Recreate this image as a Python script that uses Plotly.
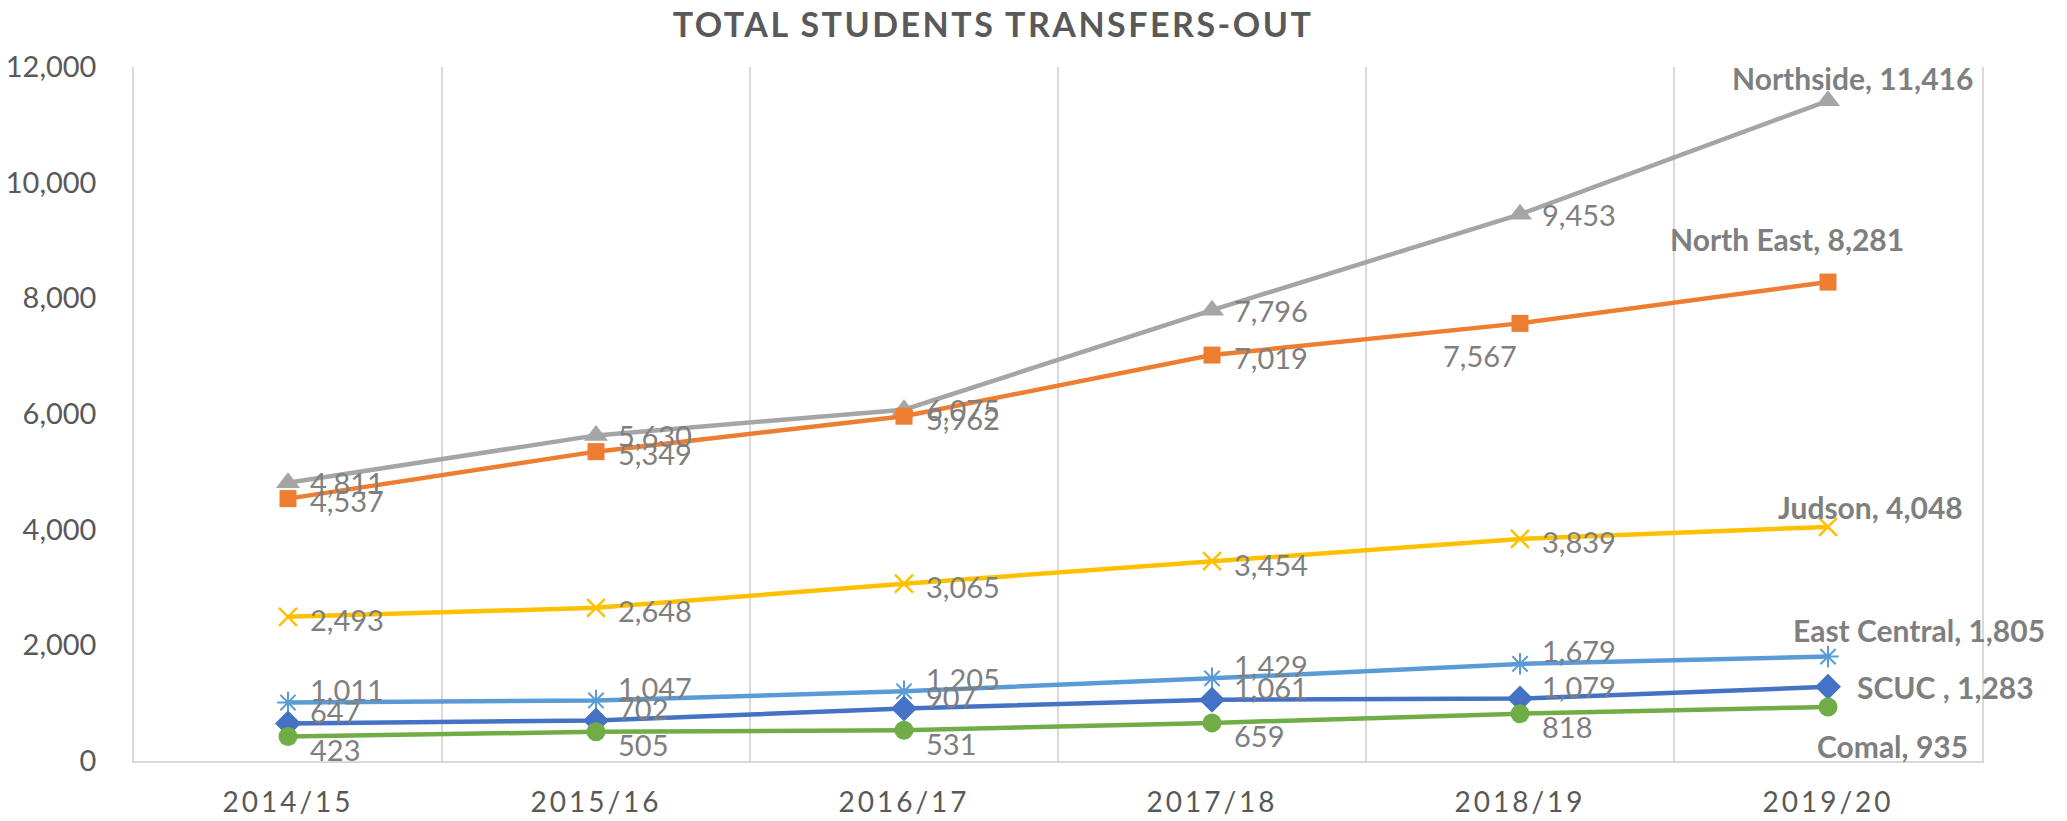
import plotly.graph_objects as go

categories = ["2014/15", "2015/16", "2016/17", "2017/18", "2018/19", "2019/20"]
series_names = ["Northside", "North East", "Judson", "East Central", "SCUC ", "Comal"]
northside = [4811, 5630, 6075, 7796, 9453, 11416]
north_east = [4537, 5349, 5962, 7019, 7567, 8281]
judson = [2493, 2648, 3065, 3454, 3839, 4048]
east_central = [1011, 1047, 1205, 1429, 1679, 1805]
scuc = [647, 702, 907, 1061, 1079, 1283]
comal = [423, 505, 531, 659, 818, 935]
title_text = "TOTAL STUDENTS TRANSFERS-OUT"

values = [northside, north_east, judson, east_central, scuc, comal]

styles = [
    dict(color="#A5A5A5", symbol="triangle-up", size=21, lw=0),
    dict(color="#ED7D31", symbol="square", size=17, lw=0),
    dict(color="#FFC000", symbol="x-thin-open", size=18, lw=2.5),
    dict(color="#5B9BD5", symbol="asterisk-open", size=18, lw=2),
    dict(color="#4472C4", symbol="diamond", size=20, lw=0),
    dict(color="#70AD47", symbol="circle", size=19, lw=0),
]
# vertical shift (px, up positive) of ordinary value labels, per series
label_dy = [0, -2, -3, 13, 12, -13]
# final bold label placement: (xanchor, xshift, yshift)
final_pos = [
    ("center", 24, 23),
    ("center", -41, 43),
    ("center", 42, 20),
    ("center", 91, 27),
    ("left", 27, 0),
    ("center", 64, -39),
]

fig = go.Figure()
annotations = []
LABEL_GRAY = "#7F7F7F"
FONT = "Lato"

for name, vals, st, dy, fp in zip(series_names, values, styles, label_dy, final_pos):
    fig.add_trace(go.Scatter(
        x=categories, y=vals, mode="lines+markers", name=name,
        line=dict(color=st["color"], width=4.5),
        marker=dict(symbol=st["symbol"], size=st["size"], color=st["color"],
                    line=dict(color=st["color"], width=st["lw"])),
        hoverinfo="skip",
    ))
    n = len(vals)
    for i, (c, v) in enumerate(zip(categories, vals)):
        if i == n - 1:
            xa, xs, ys = fp
            annotations.append(dict(
                x=c, y=v, xref="x", yref="y", text=f"<b>{name}, {v:,}</b>",
                showarrow=False, xanchor=xa, yanchor="middle", xshift=xs, yshift=ys,
                font=dict(family=FONT, size=30, color=LABEL_GRAY)))
        elif name == "North East" and i == 4:
            annotations.append(dict(
                x=c, y=v, xref="x", yref="y", text=f"{v:,}",
                showarrow=False, xanchor="center", yanchor="middle", xshift=-40, yshift=-32,
                font=dict(family=FONT, size=29, color=LABEL_GRAY)))
        else:
            annotations.append(dict(
                x=c, y=v, xref="x", yref="y", text=f"{v:,}",
                showarrow=False, xanchor="left", yanchor="middle", xshift=20, yshift=dy,
                font=dict(family=FONT, size=29, color=LABEL_GRAY)))

fig.update_layout(
    width=2067, height=821,
    margin=dict(l=134, r=85, t=67, b=60),
    paper_bgcolor="white", plot_bgcolor="white",
    showlegend=False,
    title=dict(text=f"<b>{title_text}</b>", x=993 / 2067, xref="container", xanchor="center",
               y=1 - 25 / 821, yref="container", yanchor="middle",
               font=dict(family=FONT, size=34, color="#595959")),
    annotations=annotations,
    xaxis=dict(type="category", tickson="boundaries", showgrid=True, gridcolor="#D9D9D9",
               gridwidth=1.5, showline=True, linecolor="#D9D9D9", linewidth=1.5,
               ticks="", ticklabelstandoff=16, range=[-0.5, 5.5], automargin=False,
               tickfont=dict(family=FONT, size=28, color="#595959")),
    yaxis=dict(range=[0, 12000], dtick=2000, tickformat=",", showgrid=False, zeroline=False,
               showline=True, linecolor="#D9D9D9", linewidth=1.5, mirror=True,
               ticks="", ticklabelstandoff=30, automargin=False,
               tickfont=dict(family=FONT, size=29, color="#595959")),
)

post_js = (
    "document.body.style.margin='0';"
    "document.body.style.overflow='hidden';"
    "var gd=document.getElementsByClassName('plotly-graph-div')[0];"
    "function sp(){"
    "gd.querySelectorAll('.xtick text').forEach(function(t){t.style.letterSpacing='3px';});"
    "gd.querySelectorAll('.gtitle').forEach(function(t){t.style.letterSpacing='2.5px';});"
    "}"
    "sp();gd.on('plotly_afterplot',sp);"
)

fig.write_html("out.html", post_script=post_js, config={"displayModeBar": False})
